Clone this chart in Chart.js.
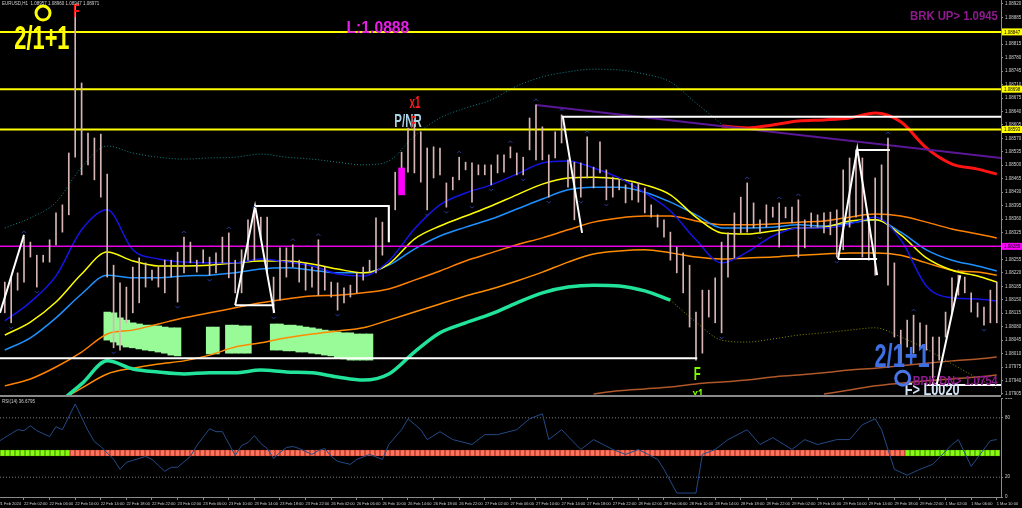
<!DOCTYPE html>
<html>
<head>
<meta charset="utf-8">
<script src="https://cdn.jsdelivr.net/npm/chart.js@4.4.1/dist/chart.umd.min.js"></script>
<style>
  html, body { margin: 0; padding: 0; background: #000; overflow: hidden; }
  #wrap { position: relative; width: 1022px; height: 508px; background: #000; }
  canvas { position: absolute; left: 0; display: block; }
  #main { top: 0; }
  #sub { top: 398px; }
  #sep { position: absolute; left: 0; top: 395px; width: 1001px; height: 2px; background: #8a8a8a; }
</style>
</head>
<body>
<div id="wrap">
  <canvas id="main" width="1022" height="395"></canvas>
  <div id="sep"></div>
  <canvas id="sub" width="1022" height="110"></canvas>
</div>
<script>
// EURUSD H1, bar 0 = 21 Feb 23:00
const barHigh = [
  1.08196,1.08209,1.08220,1.08313,1.08300,1.08266,1.08266,1.08306,1.08376,1.08397,
  1.08532,1.08917,1.08714,1.08584,1.08571,1.08581,1.08477,1.08240,1.08194,1.08183,
  1.08235,1.08259,1.08246,1.08227,1.08235,1.08253,1.08253,1.08274,1.08313,1.08300,
  1.08253,1.08280,1.08261,1.08272,1.08313,1.08324,1.08253,1.08280,1.08358,1.08378,
  1.08365,1.08365,1.08209,1.08285,1.08285,1.08293,1.08253,1.08246,1.08235,1.08306,
  1.08235,1.08196,1.08194,1.08181,1.08188,1.08220,1.08235,1.08253,1.08363,1.08352,
  1.08391,1.08482,1.08534,1.08597,1.08618,1.08587,1.08545,1.08548,1.08545,1.08454,
  1.08469,1.08521,1.08508,1.08506,1.08501,1.08501,1.08501,1.08527,1.08527,1.08548,
  1.08532,1.08521,1.08623,1.08657,1.08600,1.08527,1.08587,1.08631,1.08514,1.08508,
  1.08506,1.08574,1.08495,1.08561,1.08488,1.08469,1.08462,1.08449,1.08454,1.08454,
  1.08441,1.08397,1.08371,1.08358,1.08326,1.08287,1.08272,1.08240,1.08118,1.08175,
  1.08175,1.08207,1.08300,1.08324,1.08376,1.08417,1.08454,1.08402,1.08358,1.08397,
  1.08391,1.08402,1.08391,1.08391,1.08410,1.08358,1.08376,1.08371,1.08376,1.08378,
  1.08384,1.08488,1.08519,1.08540,1.08519,1.08365,1.08467,1.08501,1.08571,1.08246,
  1.08071,1.08097,1.08110,1.08090,1.08084,1.08053,1.08053,1.08118,1.08207,1.08214,
  1.08209,1.08168,1.08142,1.08131,1.08175,1.08196
];
const barLow = [
  1.08116,1.08090,1.08175,1.08196,1.08261,1.08183,1.08248,1.08248,1.08293,1.08326,
  1.08371,1.08521,1.08475,1.08501,1.08462,1.08417,1.08209,1.08025,1.08019,1.08090,
  1.08116,1.08142,1.08183,1.08201,1.08183,1.08168,1.08209,1.08144,1.08220,1.08246,
  1.08222,1.08246,1.08214,1.08220,1.08246,1.08207,1.08168,1.08168,1.08253,1.08253,
  1.08306,1.08220,1.08116,1.08149,1.08209,1.08235,1.08196,1.08175,1.08183,1.08162,
  1.08175,1.08157,1.08123,1.08142,1.08157,1.08168,1.08201,1.08220,1.08220,1.08266,
  1.08300,1.08384,1.08428,1.08482,1.08480,1.08456,1.08384,1.08467,1.08475,1.08391,
  1.08436,1.08462,1.08488,1.08404,1.08475,1.08475,1.08449,1.08480,1.08482,1.08519,
  1.08475,1.08475,1.08540,1.08514,1.08514,1.08417,1.08519,1.08558,1.08443,1.08358,
  1.08417,1.08467,1.08441,1.08480,1.08410,1.08417,1.08436,1.08402,1.08410,1.08404,
  1.08376,1.08365,1.08339,1.08313,1.08253,1.08220,1.08168,1.08079,1.07993,1.08011,
  1.08105,1.08090,1.08064,1.08209,1.08259,1.08324,1.08326,1.08337,1.08324,1.08339,
  1.08365,1.08287,1.08363,1.08350,1.08261,1.08285,1.08339,1.08339,1.08324,1.08319,
  1.08261,1.08280,1.08339,1.08365,1.08261,1.08253,1.08214,1.08358,1.08188,1.08053,
  1.07985,1.08027,1.08011,1.08027,1.08019,1.07907,1.07993,1.08053,1.08116,1.08162,
  1.08168,1.08118,1.08105,1.08084,1.08090,1.08090
];
// fractal arrows (bar indexes)
const fractalUp = [3,28,35,39,45,49,71,79,83,87,91,116,121,124,138,142,149];
const fractalDown = [1,5,17,27,32,42,52,66,69,73,76,81,85,90,94,112,118,130,153];

// moving averages / bands, sampled at these bars
const maBars = [0,4,8,12,16,20,24,28,32,36,40,44,48,52,56,60,64,68,72,76,
                80,84,88,92,96,100,104,108,112,116,120,124,128,132,136,140,144,148,152,155];
const blueMA = [1.08095,1.08144,1.08212,1.08332,1.08384,1.08280,1.08256,1.08248,1.08246,1.08246,
  1.08256,1.08248,1.08238,1.08217,1.08212,1.08251,1.08334,1.08397,1.08428,1.08449,
  1.08477,1.08506,1.08511,1.08493,1.08467,1.08428,1.08381,1.08306,1.08246,1.08274,
  1.08316,1.08337,1.08337,1.08347,1.08365,1.08306,1.08186,1.08155,1.08152,1.08147];
const yellowMA = [1.08058,1.08092,1.08144,1.08217,1.08274,1.08251,1.08238,1.08238,1.08240,1.08246,
  1.08251,1.08251,1.08243,1.08230,1.08220,1.08243,1.08308,1.08342,1.08368,1.08394,
  1.08423,1.08451,1.08467,1.08469,1.08464,1.08449,1.08423,1.08365,1.08324,1.08321,
  1.08329,1.08337,1.08339,1.08355,1.08358,1.08319,1.08259,1.08227,1.08212,1.08196];
const dodgerMA = [1.08019,1.08051,1.08103,1.08165,1.08214,1.08207,1.08207,1.08212,1.08214,1.08220,
  1.08230,1.08233,1.08227,1.08220,1.08220,1.08240,1.08282,1.08316,1.08339,1.08360,
  1.08386,1.08412,1.08436,1.08443,1.08443,1.08430,1.08404,1.08371,1.08337,1.08337,
  1.08339,1.08345,1.08342,1.08350,1.08358,1.08326,1.08280,1.08253,1.08238,1.08225];
const orangeMA1 = [1.07926,1.07944,1.07975,1.08014,1.08061,1.08071,1.08087,1.08103,1.08116,1.08129,
  1.08142,1.08152,1.08160,1.08162,1.08168,1.08178,1.08201,1.08225,1.08251,1.08272,
  1.08293,1.08311,1.08332,1.08352,1.08363,1.08368,1.08368,1.08355,1.08345,1.08345,
  1.08347,1.08352,1.08355,1.08365,1.08373,1.08368,1.08352,1.08334,1.08321,1.08311];
const orangeMA2 = [null,null,1.07881,1.07920,1.07957,1.07972,1.07983,1.07991,1.08006,1.08027,
  1.08038,1.08051,1.08061,1.08069,1.08077,1.08097,1.08118,1.08139,1.08160,1.08178,
  1.08199,1.08222,1.08248,1.08269,1.08277,1.08280,1.08272,1.08261,1.08256,1.08259,
  1.08261,1.08266,1.08269,1.08272,1.08272,1.08266,1.08246,1.08227,1.08222,1.08214];
const springMA = [null,null,1.07876,1.07931,1.07991,1.07970,1.07962,1.07957,1.07960,1.07960,
  1.07967,1.07962,1.07960,1.07949,1.07941,1.07957,1.08014,1.08064,1.08090,1.08113,
  1.08142,1.08168,1.08183,1.08188,1.08186,1.08173,1.08149, ...Array(13).fill(null)];
const upperBand = [1.08337,1.08363,1.08404,1.08495,1.08550,1.08532,1.08521,1.08516,1.08519,1.08521,
  1.08529,1.08521,1.08516,1.08508,1.08501,1.08511,1.08576,1.08623,1.08649,1.08670,
  1.08706,1.08730,1.08743,1.08750,1.08748,1.08737,1.08717,1.08662,1.08607, ...Array(11).fill(null)];
const lowerBand = [...Array(26).fill(null),
  1.08149,1.08092,1.08045,1.08040,1.08048,1.08058,1.08064,1.08071,1.08077,1.08053,1.08022,1.07983,1.07946,1.07920];
const redMA = [...Array(28).fill(null),
  1.08602,1.08597,1.08605,1.08615,1.08618,1.08623,1.08636,1.08613,1.08545,1.08503,1.08490,1.08477];
const brownMA1 = [...Array(23).fill(null),
  1.07905,1.07913,1.07918,1.07923,1.07931,1.07936,1.07941,1.07949,1.07954,1.07960,1.07967,1.07972,1.07978,1.07985,1.07991,1.07996,1.08001];
const brownMA2 = [...Array(32).fill(null),
  1.07905,1.07915,1.07926,1.07933,1.07939,1.07944,1.07949,1.07954];

// zones
const greenBars = [16,17,18,19,20,21,22,23,24,25,26,27,32,33,35,36,37,38,
                   42,43,44,45,46,47,48,49,50,51,52,53,54,55,56,57];
const greenTop = [1.08118,1.08116,1.08103,1.08097,1.08090,1.08087,1.08084,1.08084,1.08082,1.08079,1.08077,1.08077,
  1.08079,1.08079,1.08084,1.08084,1.08082,1.08082,
  1.08087,1.08087,1.08084,1.08084,1.08082,1.08079,1.08077,1.08074,1.08071,1.08069,1.08066,1.08064,1.08064,1.08061,1.08061,1.08061];
const greenBot = [1.08045,1.08040,1.08032,1.08027,1.08025,1.08022,1.08019,1.08017,1.08014,1.08011,1.08006,1.08004,
  1.08009,1.08009,1.08011,1.08011,1.08011,1.08011,
  1.08019,1.08019,1.08017,1.08017,1.08014,1.08014,1.08011,1.08009,1.08006,1.08004,1.07998,1.07996,1.07993,1.07993,1.07993,1.07993];
const pinkBox = {bar: 62, low: 1.08423, high: 1.08493};

// levels and trend lines
const yellowLevels = [1.08847, 1.08698, 1.08593];
const magentaLevel = 1.08289;
const trendLine = [[83, 1.08657], [155.66, 1.08519]];
const whiteLines = [
  [[-0.75, 1.08116], [3, 1.08319]],
  [[-0.75, 1.07998], [108.2, 1.07998]],
  [[36, 1.08136], [39.1, 1.08394], [42.1, 1.08116]],
  [[36, 1.08136], [42.1, 1.08136]],
  [[39.1, 1.08394], [60, 1.08394], [60, 1.08300]],
  [[90.2, 1.08324], [87.2, 1.08626], [155.66, 1.08626]],
  [[130.2, 1.08256], [133.2, 1.08543], [136.3, 1.08214]],
  [[130.2, 1.08256], [136.3, 1.08256]],
  [[133.2, 1.08540], [138.3, 1.08540]],
  [[145.6, 1.07928], [149.3, 1.08214]],
  [[144, 1.07928], [155.66, 1.07928]]
];

const priceTicks = [1.08920,1.08885,1.08815,1.08780,1.08745,1.08710,1.08675,1.08640,1.08605,1.08570,
  1.08535,1.08500,1.08465,1.08430,1.08395,1.08360,1.08325,1.08255,1.08220,1.08185,
  1.08150,1.08115,1.08080,1.08045,1.08010,1.07975,1.07940,1.07905];

const timeLabels = ["21 Feb 2024","22 Feb 02:00","22 Feb 06:00","22 Feb 10:00","22 Feb 14:00","22 Feb 18:00",
  "22 Feb 22:00","23 Feb 02:00","23 Feb 06:00","23 Feb 10:00","23 Feb 14:00","23 Feb 18:00","23 Feb 22:00",
  "26 Feb 02:00","26 Feb 06:00","26 Feb 10:00","26 Feb 14:00","26 Feb 18:00","26 Feb 22:00",
  "27 Feb 02:00","27 Feb 06:00","27 Feb 10:00","27 Feb 14:00","27 Feb 18:00","27 Feb 22:00",
  "28 Feb 02:00","28 Feb 06:00","28 Feb 10:00","28 Feb 14:00","28 Feb 18:00","28 Feb 22:00",
  "29 Feb 02:00","29 Feb 06:00","29 Feb 10:00","29 Feb 14:00","29 Feb 18:00","29 Feb 22:00",
  "1 Mar 02:00","1 Mar 06:00","1 Mar 10:00"];

// RSI(14) panel
const rsiBars = [-1,0,1,2,3,4,5,7,8,9,11,13,14,15,17,18,19,20,22,23,24,25,26,27,29,30,32,33,34,36,
  37,38,39,40,41,42,43,44,45,46,48,49,50,51,52,54,55,57,59,60,62,63,65,66,68,70,73,75,77,80,
  82,84,85,87,90,92,95,97,99,102,103,105,108,109,111,113,116,118,120,123,125,127,130,132,134,136,137,139,141,143,
  145,148,149,151,154,155];
const rsiVals = [56,60,64,68,67,72,67,61,71,68,94,67,56,51,38,28,35,37,41,38,32,26,30,30,41,52,69,66,66,42,
  52,55,62,54,49,39,45,50,51,49,43,47,49,41,36,33,38,43,38,53,68,79,68,58,66,58,53,63,63,68,
  79,84,58,68,48,58,48,43,48,38,28,4,4,43,48,58,68,53,60,48,58,53,58,58,73,79,68,28,22,28,
  33,53,58,31,57,58];
const rsiLevels = [20, 80];
const rsiTicks = [0, 20, 80, 100];
// signal strip: run lengths of state (1 = up, -1 = down)
const signalRuns = [[1, 14], [-1, 167], [1, 19]];

const notes = [
  {text: '2/1+1', bar: 5.8, price: 1.08834, color: '#ffff00', size: 33, sx: 0.66},
  {text: 'F', bar: 11.2, price: 1.08904, color: '#ff1a1a', size: 19, sx: 0.55},
  {text: 'L:1.0888', bar: 58.3, price: 1.08860, color: '#e61ee6', size: 16, sx: 0.98},
  {text: 'BRK UP> 1.0945', bar: 148.3, price: 1.08891, color: '#8e1a8e', size: 13, sx: 0.87},
  {text: 'x1', bar: 64.1, price: 1.08665, color: '#ff1a1a', size: 16, sx: 0.62},
  {text: 'P/NR', bar: 63.0, price: 1.08618, color: '#a9d3e6', size: 19, sx: 0.6},
  {text: 'F', bar: 63.8, price: 1.08612, color: '#ff1a1a', size: 16, sx: 0.55},
  {text: 'F', bar: 108.2, price: 1.07959, color: '#7cfc00', size: 19, sx: 0.6},
  {text: 'x1', bar: 108.3, price: 1.07905, color: '#7cfc00', size: 14, sx: 0.7},
  {text: 'F> L0020', bar: 144.9, price: 1.07918, color: '#cfe3f5', size: 17, sx: 0.75},
  {text: 'BRK DN> 1.0754', bar: 148.5, price: 1.07939, color: '#8e1a8e', size: 12.5, sx: 0.87},
  {text: '2/1+1', bar: 140.2, price: 1.08006, color: '#3f6fe4', size: 33, sx: 0.66}
];
const rings = [
  {bar: 5.97, price: 1.08896, r: 7, color: '#ffff00'},
  {bar: 140.3, price: 1.07946, r: 7, color: '#4a74e6'}
];

const X_MIN = -0.75, X_MAX = 155.66;
const FONT = 'Liberation Sans';

function series(arr) {
  return maBars.map((b, i) => ({x: b, y: arr[i]})).filter(p => p.y !== null);
}
function lineDs(arr, color, width, order, dash) {
  return {type: 'line', data: series(arr), borderColor: color, borderWidth: width,
    borderDash: dash || [], pointRadius: 0, cubicInterpolationMode: 'monotone', order: order};
}
function flatLine(y, color, width, order) {
  return {type: 'line', data: [{x: X_MIN, y: y}, {x: X_MAX, y: y}], borderColor: color,
    borderWidth: width, pointRadius: 0, order: order};
}

const datasets = [];
datasets.push({type: 'bar', data: greenBars.map((b, i) => ({x: b, y: [greenBot[i], greenTop[i]]})),
  backgroundColor: '#98fb98', barThickness: 6.7, grouped: false, order: 100});
datasets.push(lineDs(brownMA1, '#b0582a', 1.5, 90));
datasets.push(lineDs(brownMA2, '#b0582a', 1.5, 90));
datasets.push(lineDs(orangeMA2, '#ff8c00', 1.5, 89));
datasets.push(lineDs(orangeMA1, '#ff8000', 1.5, 88));
datasets.push(lineDs(springMA, '#22e39a', 3.5, 87));
datasets.push(lineDs(upperBand, '#138585', 1, 86, [1, 2]));
datasets.push(lineDs(lowerBand, '#8b8b00', 1, 86, [1, 2]));
datasets.push(lineDs(dodgerMA, '#1e90ff', 1.5, 85));
datasets.push(lineDs(yellowMA, '#ffff00', 1.5, 84));
datasets.push(lineDs(blueMA, '#1414e6', 1.5, 83));
datasets.push(lineDs(redMA, '#ff1414', 3, 82));
datasets.push({type: 'line', data: trendLine.map(p => ({x: p[0], y: p[1]})), borderColor: '#5a1896',
  borderWidth: 2, pointRadius: 0, order: 81});
yellowLevels.forEach(v => datasets.push(flatLine(v, '#ffff00', 2, 70)));
datasets.push(flatLine(magentaLevel, '#e600e6', 1.5, 70));
datasets.push({type: 'bar', data: barHigh.map((h, i) => ({x: i, y: [barLow[i], h]})),
  backgroundColor: '#d7b4b4', barThickness: 1, grouped: false, order: 60});
datasets.push({type: 'bar', data: [{x: pinkBox.bar, y: [pinkBox.low, pinkBox.high]}],
  backgroundColor: '#ff00ff', barThickness: 6, grouped: false, order: 30});
whiteLines.forEach(seg => datasets.push({type: 'line', data: seg.map(p => ({x: p[0], y: p[1]})),
  borderColor: '#ffffff', borderWidth: 2, pointRadius: 0, order: 20}));

function rightAxisFit(scale) {
  scale.width = 21;
  scale.paddingTop = 0;
  scale.paddingBottom = 0;
}

function chevron(ctx, px, py, dir) {
  ctx.beginPath();
  ctx.moveTo(px - 2, py + 2 * dir);
  ctx.lineTo(px, py);
  ctx.lineTo(px + 2, py + 2 * dir);
  ctx.stroke();
}

const mainPlugin = {
  id: 'mainNotes',
  afterDatasetsDraw(chart) {
    const {ctx, scales: {x, y}} = chart;
    const area = chart.chartArea;
    ctx.save();
    ctx.beginPath();
    ctx.rect(area.left, area.top, area.right - area.left, area.bottom - area.top);
    ctx.clip();
    // fractal arrows
    ctx.strokeStyle = '#2a3a9c';
    ctx.lineWidth = 1;
    fractalUp.forEach(b => chevron(ctx, x.getPixelForValue(b), y.getPixelForValue(barHigh[b]) - 6, 1));
    fractalDown.forEach(b => chevron(ctx, x.getPixelForValue(b), y.getPixelForValue(barLow[b]) + 6, -1));
    notes.forEach(n => {
      ctx.save();
      ctx.translate(x.getPixelForValue(n.bar), y.getPixelForValue(n.price) + n.size * 0.36);
      ctx.scale(n.sx, 1);
      ctx.font = 'bold ' + n.size + 'px "' + FONT + '"';
      ctx.fillStyle = n.color;
      ctx.textAlign = 'center';
      ctx.textBaseline = 'alphabetic';
      ctx.fillText(n.text, 0, 0);
      ctx.restore();
    });
    rings.forEach(r => {
      ctx.beginPath();
      ctx.arc(x.getPixelForValue(r.bar), y.getPixelForValue(r.price), r.r, 0, Math.PI * 2);
      ctx.lineWidth = 3;
      ctx.strokeStyle = r.color;
      ctx.stroke();
    });
    ctx.restore();
  },
  afterDraw(chart) {
    const {ctx, scales: {y}} = chart;
    const right = chart.chartArea.right;
    ctx.save();
    ctx.font = '4.5px "' + FONT + '"';
    ctx.fillStyle = '#cfcfcf';
    ctx.textBaseline = 'top';
    ctx.fillText('EURUSD,H1  1.08957 1.08960 1.08947 1.08971', 2, 2);
    const marks = yellowLevels.map(v => ({v: v, bg: '#ffff00'})).concat([{v: magentaLevel, bg: '#ff00ff'}]);
    ctx.textBaseline = 'middle';
    marks.forEach(m => {
      const py = y.getPixelForValue(m.v);
      ctx.fillStyle = m.bg;
      ctx.fillRect(right + 1, py - 3.5, 20, 7);
      ctx.fillStyle = '#000';
      ctx.fillText(m.v.toFixed(5), right + 3, py + 0.5);
    });
    ctx.restore();
  }
};

new Chart(document.getElementById('main'), {
  type: 'bar',
  data: {datasets: datasets},
  options: {
    responsive: false,
    animation: false,
    layout: {padding: 0},
    plugins: {legend: {display: false}, tooltip: {enabled: false}},
    scales: {
      x: {type: 'linear', min: X_MIN, max: X_MAX, display: false, offset: false, grid: {offset: false}},
      y: {
        position: 'right', min: 1.079022, max: 1.0893, beginAtZero: false,
        afterBuildTicks: s => { s.ticks = priceTicks.map(v => ({value: v})); },
        afterFit: rightAxisFit,
        ticks: {autoSkip: false, padding: 2, color: '#cfcfcf', font: {family: FONT, size: 4.5},
          callback: v => v.toFixed(5)},
        grid: {drawOnChartArea: false, drawTicks: true, tickLength: 2, color: '#8a8a8a'},
        border: {display: true, color: '#8a8a8a'}
      }
    }
  },
  plugins: [mainPlugin]
});

// ---- RSI panel ----
const signalStates = [];
signalRuns.forEach(([state, n]) => { for (let k = 0; k < n; k++) signalStates.push(state); });

const subDatasets = [
  {type: 'bar', xAxisID: 'xs', data: signalStates.map((s, k) => ({x: k + 0.5, y: [41.5, 47.5]})),
    backgroundColor: signalStates.map(s => s > 0 ? '#86fc10' : '#ff745e'),
    borderColor: signalStates.map(s => s > 0 ? '#5fb800' : '#c8432f'),
    borderWidth: 0.6, borderSkipped: false, barThickness: 4.2, grouped: false, order: 10},
  {type: 'line', xAxisID: 'x', data: rsiBars.map((b, i) => ({x: b, y: rsiVals[i]})),
    borderColor: '#234a86', borderWidth: 1, pointRadius: 0, tension: 0, order: 1}
];
rsiLevels.forEach(v => subDatasets.push({type: 'line', xAxisID: 'x',
  data: [{x: X_MIN, y: v}, {x: X_MAX, y: v}], borderColor: '#7a7a7a', borderWidth: 1,
  borderDash: [1, 2], pointRadius: 0, order: 20}));

const subPlugin = {
  id: 'subNotes',
  afterDraw(chart) {
    const ctx = chart.ctx;
    ctx.save();
    ctx.font = '4.5px "' + FONT + '"';
    ctx.fillStyle = '#cfcfcf';
    ctx.textBaseline = 'top';
    ctx.fillText('RSI(14) 36.6795', 2, 2);
    ctx.restore();
  }
};

new Chart(document.getElementById('sub'), {
  type: 'bar',
  data: {datasets: subDatasets},
  options: {
    responsive: false,
    animation: false,
    layout: {padding: 0},
    plugins: {legend: {display: false}, tooltip: {enabled: false}},
    scales: {
      x: {
        type: 'linear', min: X_MIN, max: X_MAX, offset: false,
        afterBuildTicks: s => { s.ticks = timeLabels.map((_, k) => ({value: -1 + 4 * k})); },
        afterFit: s => { s.height = 11; s.paddingLeft = 0; s.paddingRight = 0; },
        ticks: {autoSkip: false, maxRotation: 0, minRotation: 0, align: 'start', padding: 1,
          color: '#cfcfcf', font: {family: FONT, size: 4}, callback: (v, i) => timeLabels[i]},
        grid: {drawOnChartArea: false, tickLength: 3, color: '#8a8a8a', offset: false},
        border: {display: true, color: '#8a8a8a'}
      },
      xs: {type: 'linear', min: 0, max: 200.2, display: false, offset: false, grid: {offset: false}},
      y: {
        position: 'right', min: 0, max: 100, beginAtZero: true,
        afterBuildTicks: s => { s.ticks = rsiTicks.map(v => ({value: v})); },
        afterFit: rightAxisFit,
        ticks: {autoSkip: false, padding: 2, color: '#cfcfcf', font: {family: FONT, size: 4.5}},
        grid: {drawOnChartArea: false, drawTicks: true, tickLength: 2, color: '#8a8a8a'},
        border: {display: true, color: '#8a8a8a'}
      }
    }
  },
  plugins: [subPlugin]
});
</script>
</body>
</html>
